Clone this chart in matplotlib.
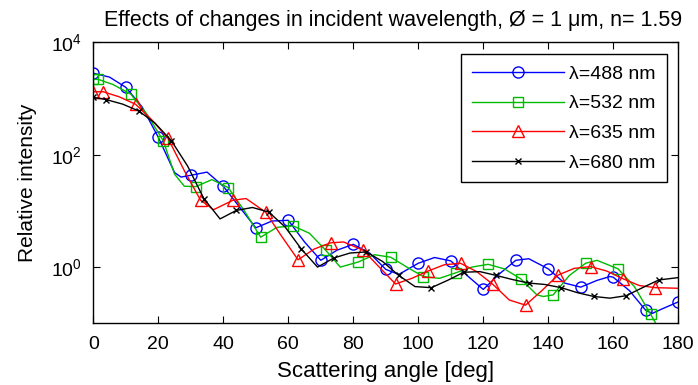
import matplotlib
matplotlib.use('Agg')
import matplotlib.pyplot as plt
from matplotlib.ticker import FixedLocator, NullLocator

plt.rcParams['font.family'] = ['Liberation Sans', 'DejaVu Sans']
plt.rcParams['mathtext.fontset'] = 'custom'
plt.rcParams['mathtext.rm'] = 'Liberation Sans'
plt.rcParams['mathtext.it'] = 'Liberation Sans:italic'

# ---- data (angle in deg, relative intensity) ----
ang_488 = [0, 5, 10, 15, 20, 25, 27, 30, 35, 40, 45, 50, 55, 60, 65, 70, 75, 80, 85, 90,
           94, 100, 105, 110, 115, 120, 125, 130, 134, 140, 145, 150, 155, 159, 160, 165,
           170, 172, 175, 180]
int_488 = [2820, 2400, 1580, 710, 204, 48, 40, 43, 49, 27.5, 11.7, 5.0, 6.6, 6.8, 2.8, 1.32,
           2.0, 2.54, 1.78, 0.91, 0.74, 1.17, 1.48, 1.29, 0.71, 0.40, 0.76, 1.32, 1.41, 0.93,
           0.52, 0.44, 0.58, 0.68, 0.66, 0.38, 0.17, 0.15, 0.18, 0.24]
mk_488 = [0, 10, 20, 30, 40, 50, 60, 70, 80, 90, 100, 110, 120, 130, 140, 150, 160, 170, 180]

ang_532 = [0, 1.5, 6, 11.5, 16.5, 21.5, 25, 28, 31.5, 36.5, 41.5, 46.5, 51.5, 56.5, 61.5,
           66.5, 71.5, 76, 81.5, 86.5, 91.5, 96.5, 101.5, 106.5, 111.5, 116.5, 121.5, 126.5,
           131.5, 136.5, 138.5, 141.5, 146.5, 151.5, 155, 161.5, 166.5, 171.5, 174]
int_532 = [2190, 2190, 1780, 1200, 525, 178, 45, 27.5, 27, 36, 26, 10, 3.4, 5.1, 5.4,
           4.0, 2.0, 1.0, 1.23, 1.66, 1.5, 1.0, 0.68, 0.63, 0.79, 1.0, 1.12, 0.93,
           0.62, 0.32, 0.30, 0.32, 0.71, 1.17, 1.32, 0.93, 0.45, 0.145, 0.08]
mk_532 = [0, 1.5, 11.5, 21.5, 31.5, 41.5, 51.5, 61.5, 71.5, 81.5, 91.5, 101.5, 111.5,
          121.5, 131.5, 141.5, 151.5, 161.5, 171.5]

ang_635 = [0, 3, 8, 13, 18, 23, 28, 33, 37, 43, 47, 53, 58, 63, 68, 73, 77, 83, 88, 93,
           98, 103, 108, 113, 118, 123, 128, 133, 138, 143, 148, 153, 158, 163, 168, 173, 180]
int_635 = [1320, 1320, 1070, 790, 417, 195, 52, 15.5, 10.5, 15.5, 16.6, 9.5, 3.5, 1.35,
           2.1, 2.7, 2.8, 2.0, 1.0, 0.50, 0.63, 0.85, 1.1, 1.17, 0.83, 0.49, 0.26, 0.21,
           0.38, 0.72, 0.95, 1.02, 0.85, 0.62, 0.47, 0.43, 0.42]
mk_635 = [0, 3, 13, 23, 33, 43, 53, 63, 73, 83, 93, 103, 113, 123, 133, 143, 153, 163, 173]

ang_680 = [0, 4, 9, 14, 19, 24, 29, 34, 39, 44, 49, 54, 59, 64, 69, 74, 79, 84, 89, 94,
           99, 104, 109, 114, 119, 124, 129, 134, 139, 144, 149, 154, 159, 164, 169, 174, 180]
int_680 = [1050, 955, 795, 600, 363, 178, 63, 16.6, 7.2, 10.2, 11.5, 9.5, 5.2, 2.1, 1.0,
           1.45, 1.78, 1.86, 1.26, 0.71, 0.45, 0.43, 0.58, 0.81, 0.83, 0.71, 0.60, 0.52,
           0.49, 0.43, 0.35, 0.30, 0.28, 0.31, 0.43, 0.59, 0.65]
mk_680 = [0, 4, 14, 24, 34, 44, 54, 64, 74, 84, 94, 104, 114, 124, 134, 144, 154, 164, 174]

series = [
    (ang_488, int_488, mk_488, 'blue', 'o', 8, '\u03bb=488 nm'),
    (ang_532, int_532, mk_532, '#00bb00', 's', 7, '\u03bb=532 nm'),
    (ang_635, int_635, mk_635, 'red', '^', 9, '\u03bb=635 nm'),
    (ang_680, int_680, mk_680, 'black', 'x', 5, '\u03bb=680 nm'),
]

fig = plt.figure(figsize=(6.98, 3.85), dpi=100)
ax = fig.add_axes([0.1337, 0.1603, 0.838, 0.7298])

for ang, val, mk, col, m, ms, lab in series:
    idx = [ang.index(a) for a in mk]
    ax.plot(ang, val, color=col, lw=1.0, marker=m, markersize=ms,
            markerfacecolor='none', markeredgecolor=col, markeredgewidth=1.0,
            markevery=idx, label=lab)

ax.set_yscale('log')
ax.set_xlim(0, 180)
ax.set_ylim(0.1, 1e4)
ax.set_xticks(range(0, 181, 20))
ax.yaxis.set_major_locator(FixedLocator([1, 1e2, 1e4]))
ax.set_yticklabels([r'$10^0$', r'$10^2$', r'$10^4$'])
ax.yaxis.set_minor_locator(NullLocator())
ax.tick_params(direction='in', length=5, width=0.8, top=True, right=True,
               labelsize=14)
ax.tick_params(axis='x', pad=9)
ax.tick_params(axis='y', pad=8)
for s in ax.spines.values():
    s.set_linewidth(1.0)

ax.set_xlabel('Scattering angle [deg]', fontsize=16, labelpad=6)
ax.set_ylabel('Relative intensity', fontsize=15, labelpad=10)
ax.set_title('Effects of changes in incident wavelength, \u00d8 = 1 \u03bcm, n= 1.59',
             fontsize=15.5, pad=12, x=0.513)

leg = ax.legend(loc='upper right', bbox_to_anchor=(0.980, 0.957), fontsize=14,
                numpoints=1, handlelength=4.7, handletextpad=0.3, labelspacing=0.62,
                borderpad=0.55, borderaxespad=0, fancybox=False, framealpha=1,
                edgecolor='black')
leg.get_frame().set_linewidth(1.0)

plt.savefig('out.png', dpi=100)
